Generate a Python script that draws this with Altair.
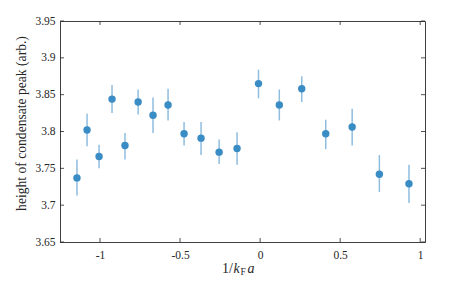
import altair as alt
import pandas as pd

# data
x_vals = [-1.144, -1.081, -1.006, -0.925, -0.844, -0.762, -0.669, -0.575, -0.475,
          -0.369, -0.256, -0.144, -0.010, 0.120, 0.260, 0.410, 0.575, 0.745, 0.930]
y_vals = [3.737, 3.802, 3.766, 3.844, 3.781, 3.840, 3.822, 3.836, 3.797,
          3.791, 3.772, 3.777, 3.865, 3.836, 3.858, 3.797, 3.806, 3.742, 3.729]
err_lo = [3.713, 3.780, 3.750, 3.825, 3.762, 3.823, 3.798, 3.815, 3.781,
          3.768, 3.756, 3.755, 3.845, 3.815, 3.840, 3.776, 3.781, 3.718, 3.703]
err_hi = [3.762, 3.824, 3.782, 3.863, 3.798, 3.857, 3.846, 3.858, 3.813,
          3.813, 3.789, 3.799, 3.884, 3.857, 3.875, 3.816, 3.831, 3.768, 3.755]

x_ticks = [-1, -0.5, 0, 0.5, 1]
y_ticks = [3.65, 3.7, 3.75, 3.8, 3.85, 3.9, 3.95]
x_domain = [-1.25, 1.03]
y_domain = [3.65, 3.95]
y_title = "height of condensate peak (arb.)"

df = pd.DataFrame({"x": x_vals, "y": y_vals, "lo": err_lo, "hi": err_hi})
xt = pd.DataFrame({"t": x_ticks})
yt = pd.DataFrame({"t": y_ticks})

W, H = 365, 221
FONT = "Liberation Serif"
AX = "#262626"
PT = "#3a8cc4"
ERR = "#8fbde0"

xscale = alt.Scale(domain=x_domain, nice=False, zero=False)
yscale = alt.Scale(domain=y_domain, nice=False, zero=False)

xaxis = alt.Axis(values=x_ticks, labelExpr="'' + datum.value", title=None,
                 tickSize=0, labelPadding=7, grid=False)
yaxis = alt.Axis(values=y_ticks, labelExpr="'' + datum.value", title=y_title,
                 tickSize=0, labelPadding=5, grid=False, titlePadding=6,
                 titleY=102,
                 titleFont=FONT, titleFontSize=13.6, titleFontWeight="normal",
                 titleColor=AX)


def X(field):
    return alt.X(field, type="quantitative", scale=xscale, axis=xaxis)


def Y(field):
    return alt.Y(field, type="quantitative", scale=yscale, axis=yaxis)


err = alt.Chart(df).mark_rule(color=ERR, strokeWidth=1.5).encode(
    x=X("x"), y=Y("lo"), y2="hi")
pts = alt.Chart(df).mark_circle(size=55, color=PT, opacity=1).encode(
    x=X("x"), y=Y("y"))

tick_b = alt.Chart(xt).mark_rule(color=AX, strokeWidth=0.8).encode(
    x=X("t"), y=alt.value(H), y2=alt.value(H - 4))
tick_t = alt.Chart(xt).mark_rule(color=AX, strokeWidth=0.8).encode(
    x=X("t"), y=alt.value(0), y2=alt.value(4))
tick_l = alt.Chart(yt).mark_rule(color=AX, strokeWidth=0.8).encode(
    y=Y("t"), x=alt.value(0), x2=alt.value(4))
tick_r = alt.Chart(yt).mark_rule(color=AX, strokeWidth=0.8).encode(
    y=Y("t"), x=alt.value(W), x2=alt.value(W - 4))

# x-axis title: 1/k_F a
base_y = 252
t1 = alt.Chart().mark_text(text="1/", font=FONT, fontSize=14, align="left",
                           baseline="alphabetic", color=AX).encode(
    x=alt.value(162), y=alt.value(base_y))
t2 = alt.Chart().mark_text(text="k", font=FONT, fontSize=14, fontStyle="italic",
                           align="left", baseline="alphabetic", color=AX).encode(
    x=alt.value(173.5), y=alt.value(base_y))
t3 = alt.Chart().mark_text(text="F", font=FONT, fontSize=9.5, align="left",
                           baseline="alphabetic", color=AX).encode(
    x=alt.value(180.5), y=alt.value(base_y + 2))
t4 = alt.Chart().mark_text(text="a", font=FONT, fontSize=14, fontStyle="italic",
                           align="left", baseline="alphabetic", color=AX).encode(
    x=alt.value(187.5), y=alt.value(base_y))

chart = alt.layer(err, pts, tick_b, tick_t, tick_l, tick_r, t1, t2, t3, t4).properties(
    width=W, height=H,
    autosize=alt.AutoSizeParams(type="none"),
    padding={"left": 52, "top": 13, "right": 30, "bottom": 35},
).configure_view(stroke="#404040", strokeWidth=1).configure_axis(
    domainColor="#404040", domainWidth=1, labelFont=FONT, labelFontSize=11.5,
    labelColor=AX, grid=False
)

chart.save("out.html", embed_options={"renderer": "svg", "actions": False})
